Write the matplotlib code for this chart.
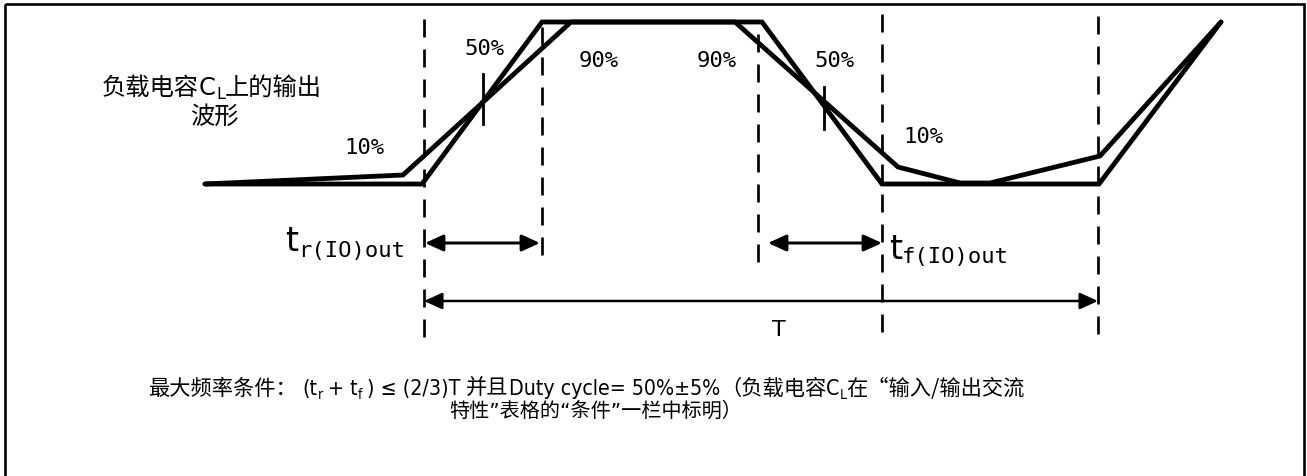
import matplotlib
matplotlib.use("Agg")
import matplotlib.pyplot as plt
from matplotlib.patches import Rectangle
from matplotlib import font_manager as fm

plt.rcParams['lines.scale_dashes'] = False

# ---------------- data (pixel-space diagram coordinates) ----------------
W, H = 1307, 477
sharp_x = [205, 422, 542, 762, 882, 1099, 1221]
sharp_y = [185, 185, 23, 23, 185, 185, 23]
slow_x = [205, 403, 571, 735, 898, 960, 990, 1100, 1221]
slow_y = [185, 176, 23, 23, 168, 184, 184, 157, 23]

dash_x = [424, 542, 758, 882, 1098]
dash_top = [20, 28, 35, 15, 17]
dash_bot = [345, 265, 270, 342, 342]

tick_x = [483, 824]
tick_top = [75, 88]
tick_bot = [125, 130]

pct_labels = ["50%", "90%", "90%", "50%", "10%", "10%"]
pct_x = [485, 599, 717, 834, 364, 923]
pct_y = [49, 61, 61, 61, 148, 137]

# double arrows: (x0, x1, y)
arrow_x0 = [425, 768, 424]
arrow_x1 = [540, 882, 1098]
arrow_y = [244, 244, 302]
arrow_lw = [3.0, 3.0, 2.5]

label_line1 = ["负载电容", "C", "L", "上的输出"]
label_line2 = "波形"
cond_line1 = ["最大频率条件：", "(t", "r", "+ t", "f", ") ≤ (2/3)T", "并且", "Duty cycle= 50%±5%",
              "（负载电容", "C", "L", "在“输入/输出交流"]
cond_line2 = "特性”表格的“条件”一栏中标明）"
tr_label = ["t", "r(IO)out"]
tf_label = ["t", "f(IO)out"]
period_label = "T"

PX = 72 / 100.0

CJK = dict(family=['Noto Sans CJK SC', 'DejaVu Sans'])
LAT = dict(family=['DejaVu Sans', 'Noto Sans CJK SC'])
MONO = dict(family=['DejaVu Sans Mono'])

# narrow latin font for the condition line, if one is installed
LATN = LAT
_cond = [f.fname for f in fm.fontManager.ttflist if 'DejaVuSansCondensed.ttf' in f.fname]
_narrow = [f.fname for f in fm.fontManager.ttflist if 'LiberationSansNarrow-Regular' in f.fname]
if _cond:
    LATN = dict(fontproperties=fm.FontProperties(fname=_cond[0]))
elif _narrow:
    LATN = dict(fontproperties=fm.FontProperties(fname=_narrow[0]))

fig = plt.figure(figsize=(W / 100, H / 100), dpi=100)
ax = fig.add_axes([0, 0, 1, 1])
ax.set_xlim(0, W)
ax.set_ylim(H, 0)
ax.axis('off')

ax.add_patch(Rectangle((5, 5), 1299, 520, fill=False, lw=2.6 * PX, ec='black', clip_on=False))

for xs, ys in [(sharp_x, sharp_y), (slow_x, slow_y)]:
    ax.plot(xs, ys, color='black', lw=4.8 * PX, solid_joinstyle='miter', solid_capstyle='round')

for x, t, b in zip(dash_x, dash_top, dash_bot):
    ax.plot([x, x], [t, b], color='black', lw=2.7 * PX, ls=(0, (18 * PX, 12 * PX)), dash_capstyle='butt')

for x, t, b in zip(tick_x, tick_top, tick_bot):
    ax.plot([x, x], [t, b], color='black', lw=2.8 * PX)

for s, x, y in zip(pct_labels, pct_x, pct_y):
    ax.text(x, y, s, fontsize=16, ha='center', va='center', **MONO)

for x0, x1, y, lw in zip(arrow_x0, arrow_x1, arrow_y, arrow_lw):
    ax.annotate('', xy=(x1, y), xytext=(x0, y),
                arrowprops=dict(arrowstyle='<|-|>,head_length=1.1,head_width=0.5', mutation_scale=10,
                                lw=lw * PX, color='black', shrinkA=0, shrinkB=0))


def chain(parts, x, y):
    out = []
    prev = None
    for s, fs, style, dy, gap in parts:
        kw = dict(style)
        if 'fontproperties' in kw:
            kw['fontproperties'] = kw['fontproperties'].copy()
            kw['fontproperties'].set_size(fs)
        else:
            kw['fontsize'] = fs
        if prev is None:
            t = ax.text(x, y + dy, s, va='baseline', ha='left', **kw)
        else:
            t = ax.annotate(s, xy=(1, y + dy), xycoords=(prev, 'data'), xytext=(gap * PX, 0),
                            textcoords='offset points', va='baseline', ha='left', **kw)
        out.append(t)
        prev = t
    return out


def align(texts, target, side):
    fig.canvas.draw()
    r = fig.canvas.get_renderer()
    bbs = [t.get_window_extent(r) for t in texts]
    inv = ax.transData.inverted()
    d0 = inv.transform((min(b.x0 for b in bbs), 0))[0]
    d1 = inv.transform((max(b.x1 for b in bbs), 0))[0]
    cur = {'left': d0, 'right': d1, 'center': (d0 + d1) / 2}[side]
    fx, fy = texts[0].get_position()
    texts[0].set_position((fx + target - cur, fy))


F1 = 17.5
lab = chain([(label_line1[0], F1, CJK, 0, 0), (label_line1[1], F1, LAT, 0, 0),
             (label_line1[2], 11.5, LAT, 4, 0), (label_line1[3], F1, CJK, 0, 0)], 102, 95)
ax.text(214, 117, label_line2, fontsize=F1, ha='center', va='center', **CJK)

F2 = 15.3
cond = chain([(cond_line1[0], F2, CJK, 0, 0), (cond_line1[1], F2, LATN, 0, 6), (cond_line1[2], 10, LATN, 4, 0),
              (cond_line1[3], F2, LATN, 0, 5), (cond_line1[4], 10, LATN, 4, 0), (cond_line1[5], F2, LATN, 0, 5),
              (cond_line1[6], F2, CJK, 0, 6), (cond_line1[7], F2, LATN, 0, 0),
              (cond_line1[8], F2, CJK, 0, 0), (cond_line1[9], F2, LATN, 0, 0), (cond_line1[10], 10, LATN, 4, 0),
              (cond_line1[11], F2, CJK, 0, 0)], 148, 395)
ax.text(596, 411, cond_line2, fontsize=14.5, ha='center', va='center', **LAT)

# timing labels
tr = chain([(tr_label[0], 24, LAT, 0, 0), (tr_label[1], 16, MONO, 6, 0)], 285, 251)
tf = chain([(tf_label[0], 24, LAT, 0, 0), (tf_label[1], 16, MONO, 4, 0)], 889, 259)
align(tr, 405, 'right')
align(tf, 889, 'left')

ax.text(779, 330, period_label, fontsize=16, ha='center', va='center', **LAT)

fig.savefig("out.png", dpi=100)
